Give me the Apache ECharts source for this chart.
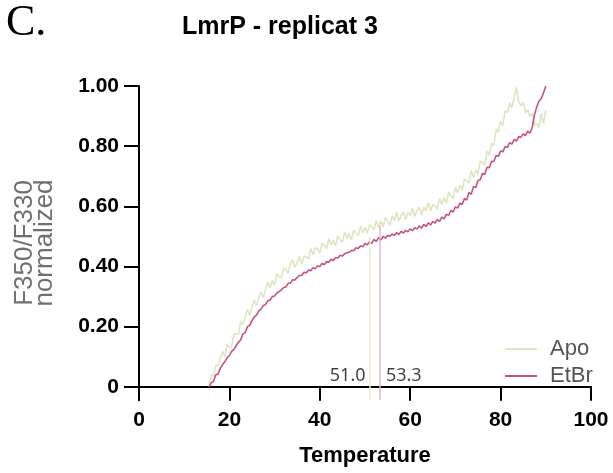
<!DOCTYPE html>
<html>
<head>
<meta charset="utf-8">
<script src="https://cdn.jsdelivr.net/npm/echarts@6/dist/echarts.min.js"></script>
<style>
html,body{margin:0;padding:0;background:#fff;}
#chart{width:613px;height:473px;}
</style>
</head>
<body>
<div id="chart"></div>
<script>
var panelLabel = 'C.';
var chartTitle = 'LmrP - replicat 3';
var xAxisName = 'Temperature';
var yAxisName = 'F350/F330\nnormalized';
var seriesNames = ['Apo', 'EtBr'];
var xTicks = [0, 20, 40, 60, 80, 100];
var yTicks = [0, 0.2, 0.4, 0.6, 0.8, 1.0];
var tmValues = [51.0, 53.3];
var tmLineTops = [0.50, 0.535];

var temperature = [
15.5,16,16.5,17,17.5,18,18.5,19,19.5,20,20.5,21,21.5,22,22.5,23,23.5,24,24.5,25,
25.5,26,26.5,27,27.5,28,28.5,29,29.5,30,30.5,31,31.5,32,32.5,33,33.5,34,34.5,35,
35.5,36,36.5,37,37.5,38,38.5,39,39.5,40,40.5,41,41.5,42,42.5,43,43.5,44,44.5,45,
45.5,46,46.5,47,47.5,48,48.5,49,49.5,50,50.5,51,51.5,52,52.5,53,53.5,54,54.5,55,
55.5,56,56.5,57,57.5,58,58.5,59,59.5,60,60.5,61,61.5,62,62.5,63,63.5,64,64.5,65,
65.5,66,66.5,67,67.5,68,68.5,69,69.5,70,70.5,71,71.5,72,72.5,73,73.5,74,74.5,75,
75.5,76,76.5,77,77.5,78,78.5,79,79.5,80,80.5,81,81.5,82,82.5,83,83.5,84,84.5,85,
85.5,86,86.5,87,87.5,88,88.5,89,89.5,90
];

var apo = [
0.010,0.040,0.035,0.072,0.069,0.094,0.118,0.100,0.140,0.132,0.133,0.176,0.176,0.175,0.218,0.206,0.234,0.257,0.236,0.268,
0.288,0.270,0.296,0.316,0.296,0.324,0.348,0.329,0.353,0.338,0.376,0.367,0.362,0.394,0.390,0.376,0.409,0.422,0.397,0.414,
0.433,0.408,0.435,0.432,0.425,0.460,0.439,0.462,0.458,0.444,0.478,0.471,0.459,0.492,0.471,0.488,0.469,0.502,0.489,0.480,
0.515,0.492,0.510,0.488,0.520,0.512,0.503,0.534,0.511,0.530,0.511,0.539,0.532,0.522,0.553,0.530,0.551,0.532,0.563,0.550,
0.538,0.569,0.552,0.580,0.551,0.569,0.581,0.555,0.580,0.568,0.594,0.566,0.586,0.598,0.571,0.597,0.584,0.612,0.585,0.606,
0.601,0.590,0.626,0.606,0.629,0.610,0.648,0.634,0.626,0.663,0.645,0.670,0.653,0.692,0.684,0.678,0.720,0.696,0.722,0.706,
0.750,0.744,0.738,0.784,0.769,0.809,0.803,0.857,0.846,0.882,0.869,0.918,0.911,0.944,0.928,0.960,0.995,0.950,0.934,0.946,
0.910,0.922,0.898,0.909,0.870,0.876,0.862,0.910,0.875,0.920
];

var etbr = [
0.000,0.014,0.018,0.040,0.042,0.062,0.074,0.084,0.096,0.104,0.118,0.124,0.138,0.148,0.156,0.176,0.180,0.200,0.204,0.220,
0.232,0.238,0.252,0.258,0.270,0.274,0.286,0.288,0.300,0.302,0.312,0.316,0.322,0.330,0.332,0.344,0.344,0.356,0.355,0.364,
0.370,0.370,0.381,0.378,0.388,0.386,0.396,0.392,0.402,0.400,0.410,0.406,0.416,0.414,0.424,0.420,0.430,0.428,0.437,0.435,
0.442,0.446,0.447,0.454,0.452,0.462,0.460,0.468,0.466,0.476,0.472,0.482,0.477,0.490,0.483,0.496,0.488,0.500,0.494,0.504,
0.500,0.508,0.503,0.513,0.506,0.517,0.511,0.520,0.515,0.525,0.519,0.529,0.524,0.535,0.527,0.540,0.533,0.545,0.538,0.550,
0.544,0.556,0.550,0.564,0.558,0.574,0.570,0.586,0.581,0.598,0.594,0.611,0.606,0.626,0.621,0.646,0.640,0.666,0.662,0.686,
0.688,0.710,0.706,0.730,0.728,0.750,0.749,0.769,0.766,0.784,0.781,0.799,0.795,0.812,0.807,0.822,0.817,0.832,0.829,0.841,
0.835,0.850,0.843,0.862,0.905,0.930,0.950,0.958,0.978,1.000
];

var apoColor = '#dbe7c2';
var etbrColor = '#c5547f';
var apoMarkColor = '#e4ecd3';
var etbrMarkColor = '#e5b6c8';

function pairs(xs, ys) {
  var out = [];
  for (var i = 0; i < xs.length; i++) out.push([xs[i], ys[i]]);
  return out;
}

var chart = echarts.init(document.getElementById('chart'), null, {renderer: 'canvas'});
var axisFont = {fontFamily: 'Liberation Sans', fontWeight: 'bold', fontSize: 21, color: '#000'};

chart.setOption({
  animation: false,
  backgroundColor: '#fff',
  title: {
    text: chartTitle,
    left: 177,
    top: 10,
    textStyle: {fontFamily: 'Liberation Sans', fontWeight: 'bold', fontSize: 25, color: '#000'}
  },
  graphic: [{
    type: 'text',
    left: 6,
    top: 1,
    style: {text: panelLabel, font: '44px "Liberation Serif"', fill: '#000'}
  }],
  legend: {
    orient: 'vertical',
    left: 505,
    top: 338,
    padding: 0,
    icon: 'rect',
    itemWidth: 32,
    itemHeight: 2,
    itemGap: 5,
    data: seriesNames,
    textStyle: {fontFamily: 'Liberation Sans', fontSize: 22, lineHeight: 22, color: '#555', padding: [0, 0, 0, 8]}
  },
  grid: {left: 139, right: 22, top: 86, bottom: 73, containLabel: false, outerBoundsMode: 'none'},
  xAxis: {
    type: 'value',
    min: xTicks[0],
    max: xTicks[xTicks.length - 1],
    interval: 20,
    name: xAxisName,
    nameLocation: 'middle',
    nameGap: 45,
    nameTextStyle: {fontFamily: 'Liberation Sans', fontWeight: 'bold', fontSize: 22, color: '#000'},
    axisLine: {onZero: true, lineStyle: {color: '#000', width: 2}},
    axisTick: {length: 14, lineStyle: {color: '#000', width: 2}},
    axisLabel: Object.assign({margin: 10}, axisFont),
    splitLine: {show: false}
  },
  yAxis: {
    type: 'value',
    min: -0.044,
    max: 1.0,
    name: yAxisName,
    nameLocation: 'middle',
    nameRotate: 90,
    nameGap: 84,
    nameTextStyle: {fontFamily: 'Liberation Sans', fontSize: 26, color: '#707070', lineHeight: 20, align: 'center'},
    axisLine: {lineStyle: {color: '#000', width: 2}},
    axisTick: {length: 15, lineStyle: {color: '#000', width: 2}, customValues: yTicks},
    axisLabel: Object.assign({
      margin: 20,
      customValues: yTicks,
      formatter: function (v) { return v === 0 ? '0' : v.toFixed(2); }
    }, axisFont),
    splitLine: {show: false}
  },
  series: [
    {
      name: seriesNames[0],
      type: 'line',
      data: pairs(temperature, apo),
      showSymbol: false,
      symbol: 'none',
      lineStyle: {color: apoColor, width: 1.6},
      itemStyle: {color: apoColor},
      z: 2,
      markLine: {
        silent: true,
        symbol: 'none',
        label: {show: false},
        lineStyle: {color: apoMarkColor, width: 1.5, type: 'solid'},
        data: [[{coord: [tmValues[0], -0.044]}, {coord: [tmValues[0], tmLineTops[0]]}]]
      }
    },
    {
      name: seriesNames[1],
      type: 'line',
      data: pairs(temperature, etbr),
      showSymbol: false,
      symbol: 'none',
      lineStyle: {color: etbrColor, width: 1.6},
      itemStyle: {color: etbrColor},
      z: 3,
      markLine: {
        silent: true,
        symbol: 'none',
        label: {show: false},
        lineStyle: {color: etbrMarkColor, width: 1.5, type: 'solid'},
        data: [[{coord: [tmValues[1], -0.044]}, {coord: [tmValues[1], tmLineTops[1]]}]]
      }
    },
    {
      name: 'tm',
      type: 'scatter',
      symbolSize: 0,
      silent: true,
      z: 4,
      data: [
        {value: [tmValues[0], 0.037], label: {position: 'left', distance: 4}},
        {value: [tmValues[1], 0.037], label: {position: 'right', distance: 6}}
      ],
      label: {
        show: true,
        fontFamily: 'Noto Sans',
        fontSize: 18,
        color: '#111',
        formatter: function (p) { return p.value[0].toFixed(1); }
      }
    }
  ]
});
</script>
</body>
</html>
